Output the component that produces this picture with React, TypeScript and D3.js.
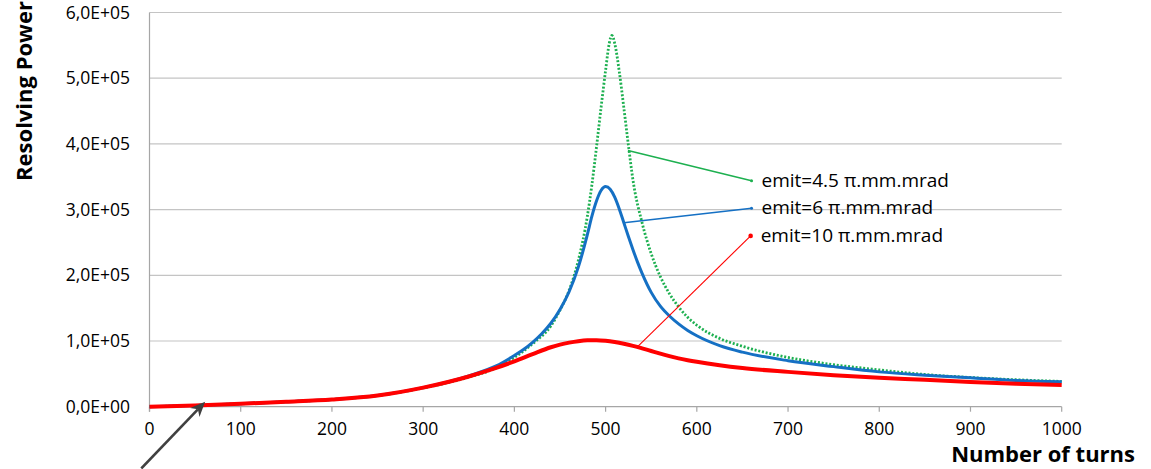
import React from "react";
import * as d3 from "d3";

// ---- data ----
const xTicks = [0, 100, 200, 300, 400, 500, 600, 700, 800, 900, 1000];
const yTicks = [0, 1e5, 2e5, 3e5, 4e5, 5e5, 6e5];
const yTickLabels = ["0,0E+00", "1,0E+05", "2,0E+05", "3,0E+05", "4,0E+05", "5,0E+05", "6,0E+05"];

// values in thousands
const greenTurns = [0, 50, 100, 150, 200, 250, 300, 350, 380, 400, 420, 440, 450, 460, 470, 480, 485, 490, 495, 500, 504, 507, 510, 515, 520, 525, 530, 540, 550, 560, 570, 580, 590, 600, 625, 650, 700, 750, 800, 850, 900, 950, 1000];
const greenVals = [0, 2, 4.5, 7.5, 11, 17, 28.5, 45, 59, 75, 96, 123, 147, 177, 222, 290, 338, 395, 455, 512, 553, 565, 553, 510, 455, 398, 345, 280, 233, 198, 172, 152, 136, 124, 104, 92, 75, 64, 56, 49, 44.5, 41, 38.5];

const blueTurns = [0, 50, 100, 150, 200, 250, 300, 350, 380, 400, 410, 420, 430, 440, 450, 460, 470, 480, 485, 490, 495, 500, 505, 510, 515, 520, 525, 530, 535, 540, 550, 560, 570, 580, 590, 600, 625, 650, 700, 750, 800, 850, 900, 950, 1000];
const blueVals = [0, 2, 4.5, 7.5, 11, 17, 29, 47, 62, 78, 87, 98, 111, 127, 148, 175, 212, 262, 290, 313, 329, 335, 331, 319, 301, 280, 259, 239, 220, 203, 174, 153, 138, 126, 116, 108, 93, 83, 70, 61, 53, 48, 44, 40, 38];

const redTurns = [0, 50, 100, 150, 200, 250, 300, 350, 380, 400, 420, 440, 450, 460, 470, 480, 490, 500, 510, 520, 530, 540, 550, 560, 570, 580, 590, 600, 625, 650, 700, 750, 800, 850, 900, 950, 1000];
const redVals = [0, 2, 4.5, 7.5, 11, 17, 29, 46, 59, 69, 80, 90.5, 94.5, 97.5, 99.7, 101, 101.2, 100.3, 98.4, 95.8, 92.6, 88.8, 84.8, 80.8, 77, 73.6, 70.8, 68.3, 63, 58.8, 53, 48, 44, 41, 37.5, 35, 33];

const legendLabels = ["emit=4.5 \u03c0.mm.mrad", "emit=6 \u03c0.mm.mrad", "emit=10 \u03c0.mm.mrad"];
// leader lines in data space: [startTurn, startValue(k), endTurn, endValue(k)]
const leaderGreen = [524.5, 390, 660, 344];
const leaderBlue = [520, 280, 660, 302];
const leaderRed = [534, 90, 659, 260];
// arrow annotation in data space: tail -> tip
const arrowTail = [-9, -94];
const arrowTip = [61, 7.6];

const W = 1151;
const H = 469;
const FONT = "'Open Sans', 'DejaVu Sans', sans-serif";

export default function App() {
  const x = d3.scaleLinear().domain([0, 1000]).range([149.5, 1061.7]);
  const y = d3.scaleLinear().domain([0, 6e5]).range([406.7, 12.5]);

  const mk = (turns: number[], vals: number[]) =>
    d3
      .line<number>()
      .x((_, i) => x(turns[i]))
      .y((v) => y(v * 1000))
      .curve(d3.curveMonotoneX)(vals) || "";

  const gPath = mk(greenTurns, greenVals);
  const bPath = mk(blueTurns, blueVals);
  const rPath = mk(redTurns, redVals);

  const leaders = [
    { l: leaderGreen, c: "#1db050", w: 1.6, label: legendLabels[0] },
    { l: leaderBlue, c: "#1570c4", w: 1.6, label: legendLabels[1] },
    { l: leaderRed, c: "#ff0000", w: 1.1, label: legendLabels[2] },
  ];

  const ax = x(arrowTail[0]);
  const ay = y(arrowTail[1] * 1000);
  const bx = x(arrowTip[0]);
  const by = y(arrowTip[1] * 1000);
  const ang = Math.atan2(by - ay, bx - ax);
  const hl = 15;
  const hw = 6.5;
  const ux = Math.cos(ang);
  const uy = Math.sin(ang);
  const baseX = bx - ux * hl;
  const baseY = by - uy * hl;
  const notchX = bx - ux * hl * 0.7;
  const notchY = by - uy * hl * 0.7;
  const head = [
    [bx, by],
    [baseX - uy * hw, baseY + ux * hw],
    [notchX, notchY],
    [baseX + uy * hw, baseY - ux * hw],
  ]
    .map((p) => p.join(","))
    .join(" ");

  return (
    <svg
      width={W}
      height={H}
      style={{ position: "absolute", left: 0, top: 0, display: "block", background: "#fff" }}
    >
      <rect x={0} y={0} width={W} height={H} fill="#fff" />
      {/* gridlines */}
      {yTicks.slice(1).map((t) => (
        <line key={t} x1={x(0)} x2={x(1000)} y1={y(t)} y2={y(t)} stroke="#c4c4c4" strokeWidth={1.2} />
      ))}
      {/* axes */}
      <line x1={x(0)} x2={x(0)} y1={y(6e5)} y2={y(0) + 5} stroke="#a6a6a6" strokeWidth={1.2} />
      <line x1={x(0)} x2={x(1000)} y1={y(0)} y2={y(0)} stroke="#a6a6a6" strokeWidth={1.2} />
      {xTicks.map((t) => (
        <line key={t} x1={x(t)} x2={x(t)} y1={y(0)} y2={y(0) + 5} stroke="#a6a6a6" strokeWidth={1.2} />
      ))}
      {/* tick labels */}
      {xTicks.map((t) => (
        <text key={t} x={x(t)} y={435} textAnchor="middle" fontFamily={FONT} fontSize={17.5} fill="#000">
          {t}
        </text>
      ))}
      {yTicks.map((t, i) => (
        <text key={t} x={130} y={y(t) + 6} textAnchor="end" fontFamily={FONT} fontSize={17.5} fill="#000">
          {yTickLabels[i]}
        </text>
      ))}
      {/* series */}
      <path d={gPath} fill="none" stroke="#1db050" strokeWidth={2.8} strokeDasharray="2 1.8" />
      <path d={bPath} fill="none" stroke="#1570c4" strokeWidth={3} />
      <path d={rPath} fill="none" stroke="#ff0000" strokeWidth={4} />
      {/* leaders and labels */}
      {leaders.map((d, i) => {
        const x1 = x(d.l[0]);
        const y1 = y(d.l[1] * 1000);
        const x2 = x(d.l[2]);
        const y2 = y(d.l[3] * 1000);
        return (
          <g key={i}>
            <line x1={x1} y1={y1} x2={x2} y2={y2} stroke={d.c} strokeWidth={d.w} />
            <circle cx={x2} cy={y2} r={i === 2 ? 2.3 : 1.5} fill={d.c} />
            <text x={x2 + 10} y={y2 + 6} fontFamily={FONT} fontSize={19} fill="#000">
              {d.label}
            </text>
          </g>
        );
      })}
      {/* arrow annotation */}
      <line x1={ax} y1={ay} x2={notchX} y2={notchY} stroke="#404040" strokeWidth={2.6} />
      <polygon points={head} fill="#404040" />
      {/* axis titles */}
      <text
        transform={`translate(32,91) rotate(-90)`}
        textAnchor="middle"
        fontFamily={FONT}
        fontWeight="bold"
        fontSize={22}
        fill="#000"
      >
        Resolving Power
      </text>
      <text x={1135} y={462} textAnchor="end" fontFamily={FONT} fontWeight="bold" fontSize={22} fill="#000">
        Number of turns
      </text>
    </svg>
  );
}
